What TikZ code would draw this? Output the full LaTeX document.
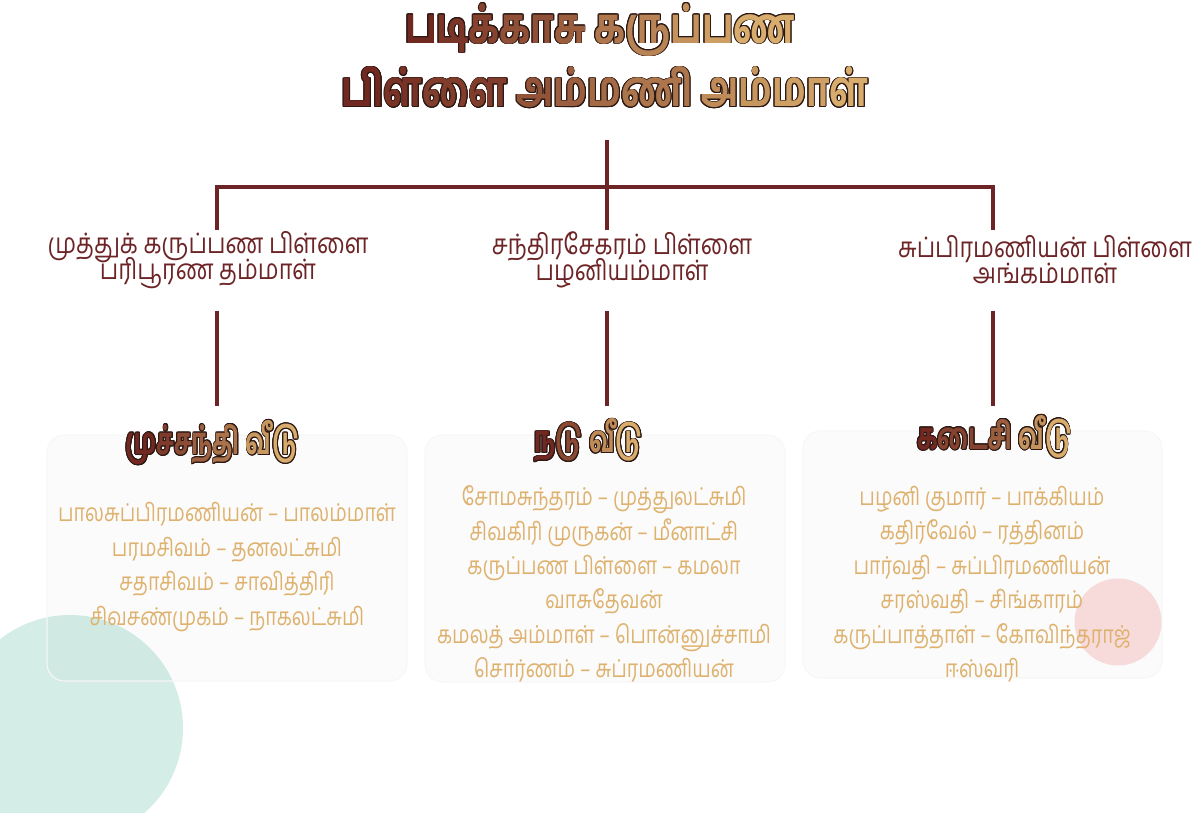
\documentclass[tikz,border=0pt]{standalone}
\usepackage{fontspec}
\usepackage{contour}
\usetikzlibrary{positioning}
\newfontfamily\tamilT[Script=Tamil,FakeStretch=0.74]{Hind Madurai Bold}
\newfontfamily\tamilH[Script=Tamil,FakeStretch=0.66]{Hind Madurai Bold}
\newfontfamily\tamilC[Script=Tamil,FakeStretch=0.83]{Hind Madurai}
\newfontfamily\tamilK[Script=Tamil,FakeStretch=0.80]{Hind Madurai}
\definecolor{famRed}{RGB}{112,40,32}
\definecolor{famTan}{RGB}{216,172,108}
\definecolor{famLine}{RGB}{108,36,38}
\definecolor{famEdge}{RGB}{45,25,20}
\definecolor{famName}{RGB}{222,178,110}
\definecolor{famTeal}{RGB}{212,238,231}
\definecolor{famPink}{RGB}{247,218,218}
\contourlength{0.5pt}
\contournumber{16}
\newcommand{\tightlines}{\lineskiplimit=-50pt\relax}
% gradient text, one colour step per letter cluster
\newcommand{\gradtxt}[2]{%
  \foreach \g [count=\i, evaluate=\i as \pc using {int(100*(\i-1)/(#1-1))}] in {#2}{%
    \color{famTan!\pc!famRed}\contour{famEdge}{\g}}}

\begin{document}
\begin{tikzpicture}[x=0.02cm, y=-0.02cm,
    title/.style={font=\tamilT\fontsize{28}{34}\selectfont, inner sep=0pt},
    house/.style={font=\tamilH\fontsize{21}{24}\selectfont, inner sep=0pt},
    couple/.style={font={\tamilC\fontsize{16}{14.7}\selectfont\tightlines},
                   text=famLine, align=center, inner sep=0pt},
    kids/.style={font={\tamilK\fontsize{14}{19.6}\selectfont\tightlines},
                 text=famName, align=center, inner sep=0pt},
    panel/.style={rounded corners=10pt, fill=black, fill opacity=0.015,
                  draw=black!3, draw opacity=1, line width=0.6pt},
    link/.style={famLine, line width=2.3pt}
  ]
  \useasboundingbox (0,0) rectangle (1200,813);
  \clip (0,0) rectangle (1200,813);
  \fill[white] (0,0) rectangle (1200,813);

  % background blob
  \fill[famTeal] (70,728) circle (113);

  % panels
  \draw[panel] (47,435) rectangle (407,681);
  \draw[panel] (425,435) rectangle (785,682);
  \draw[panel] (803,431) rectangle (1162,678);
  \fill[famPink] (1118,622) circle (43.5);

  % title
  \node[title] (t1) at (600,30) {\gradtxt{11}{ப,டி,க்,கா,சு,~,க,ரு,ப்,ப,ண}};
  \node[title] (t2) at (605,88) {\gradtxt{13}{பி,ள்,ளை,~,அ,ம்,ம,ணி,~,அ,ம்,மா,ள்}};

  % couples
  \node[couple] (c1) at (208,260) {முத்துக் கருப்பண பிள்ளை\\பரிபூரண தம்மாள்};
  \node[couple] (c2) at (622,260) {சந்திரசேகரம் பிள்ளை\\பழனியம்மாள்};
  \node[couple] (c3) at (1045,260) {சுப்பிரமணியன் பிள்ளை\\அங்கம்மாள்};

  % houses
  \node[house] (h1) at (213,443) {\gradtxt{8}{மு,ச்,ச,ந்,தி,~,வீ,டு}};
  \node[house] (h2) at (589,441) {\gradtxt{5}{ந,டு,~,வீ,டு}};
  \node[house] (h3) at (995,437) {\gradtxt{6}{க,டை,சி,~,வீ,டு}};

  \node[kids] (k1) at (227,567) {பாலசுப்பிரமணியன் – பாலம்மாள்\\பரமசிவம் – தனலட்சுமி\\
    சதாசிவம் – சாவித்திரி\\சிவசண்முகம் – நாகலட்சுமி};
  \node[kids] (k2) at (604,584) {சோமசுந்தரம் – முத்துலட்சுமி\\சிவகிரி முருகன் – மீனாட்சி\\
    கருப்பண பிள்ளை – கமலா\\வாசுதேவன்\\கமலத் அம்மாள் – பொன்னுச்சாமி\\சொர்ணம் – சுப்ரமணியன்};
  \node[kids] (k3) at (982,584) {பழனி குமார் – பாக்கியம்\\கதிர்வேல் – ரத்தினம்\\
    பார்வதி – சுப்பிரமணியன்\\சரஸ்வதி – சிங்காரம்\\கருப்பாத்தாள் – கோவிந்தராஜ்\\ஈஸ்வரி};

  % connectors
  \coordinate (root) at (607,140);
  \coordinate (jl) at (217,187);
  \coordinate (jr) at (993,187);
  \coordinate (c1t) at (217,230);
  \coordinate (c2t) at (607,230);
  \coordinate (c3t) at (993,230);
  \coordinate (c1b) at (217,311);
  \coordinate (c2b) at (607,311);
  \coordinate (c3b) at (993,311);
  \coordinate (h1t) at (217,406);
  \coordinate (h2t) at (607,406);
  \coordinate (h3t) at (993,406);
  \draw[link] (root) -- (c2t);
  \draw[link] (c1t) -- (jl) -- (jr) -- (c3t);
  \draw[link] (c1b) -- (h1t);
  \draw[link] (c2b) -- (h2t);
  \draw[link] (c3b) -- (h3t);
\end{tikzpicture}
\end{document}
